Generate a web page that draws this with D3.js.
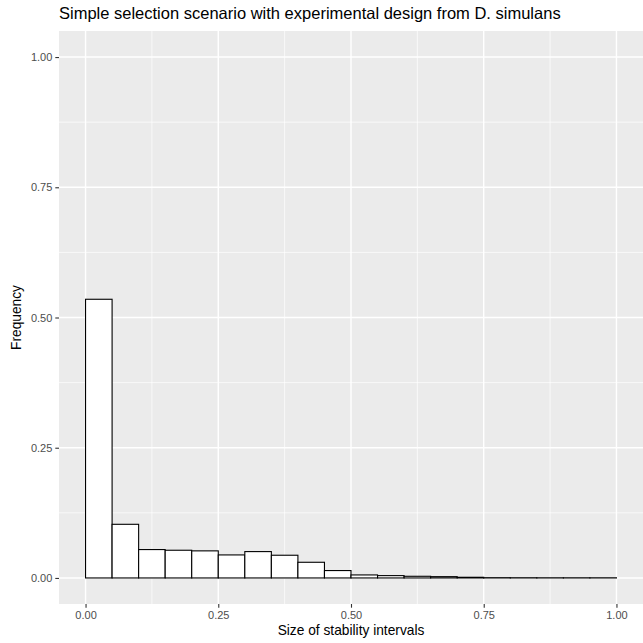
<!DOCTYPE html>
<html><head><meta charset="utf-8">
<script src="https://cdn.jsdelivr.net/npm/d3@7"></script>
<style>body{margin:0;background:#fff}svg{display:block}text{font-family:"Liberation Sans",Arial,sans-serif}</style>
</head><body>
<script>
const binStarts = [0.00,0.05,0.10,0.15,0.20,0.25,0.30,0.35,0.40,0.45,0.50,0.55,0.60,0.65,0.70,0.75,0.80,0.85,0.90,0.95];
const binWidth = 0.05;
const frequencies = [0.535,0.103,0.0545,0.0532,0.052,0.0442,0.0506,0.0436,0.0301,0.0142,0.0058,0.0045,0.0032,0.0025,0.0013,0.0005,0.0004,0.0003,0.0003,0.0003];
const xTicks = [0,0.25,0.5,0.75,1];
const yTicks = [0,0.25,0.5,0.75,1];
const xMinor = [0.125,0.375,0.625,0.875];
const yMinor = [0.125,0.375,0.625,0.875];
const title = "Simple selection scenario with experimental design from D. simulans";
const xTitle = "Size of stability intervals";
const yTitle = "Frequency";

const W=643,H=643;
const P={l:59,r:643,t:31,b:604};
const svg=d3.select("body").append("svg").attr("width",W).attr("height",H);
const x=d3.scaleLinear().domain([-0.05,1.05]).range([P.l,P.r]);
const y=d3.scaleLinear().domain([-0.05,1.05]).range([P.b,P.t]);
svg.append("rect").attr("x",P.l).attr("y",P.t).attr("width",P.r-P.l).attr("height",P.b-P.t).attr("fill","#EBEBEB");
const g=svg.append("g");
g.selectAll(".vmin").data(xMinor).join("line").attr("x1",d=>x(d)).attr("x2",d=>x(d)).attr("y1",P.t).attr("y2",P.b).attr("stroke","#fff").attr("stroke-width",0.7);
g.selectAll(".hmin").data(yMinor).join("line").attr("y1",d=>y(d)).attr("y2",d=>y(d)).attr("x1",P.l).attr("x2",P.r).attr("stroke","#fff").attr("stroke-width",0.7);
g.selectAll(".vmaj").data(xTicks).join("line").attr("x1",d=>x(d)).attr("x2",d=>x(d)).attr("y1",P.t).attr("y2",P.b).attr("stroke","#fff").attr("stroke-width",1.4);
g.selectAll(".hmaj").data(yTicks).join("line").attr("y1",d=>y(d)).attr("y2",d=>y(d)).attr("x1",P.l).attr("x2",P.r).attr("stroke","#fff").attr("stroke-width",1.4);

svg.append("g").selectAll("rect").data(binStarts).join("rect")
 .attr("x",d=>x(d)).attr("width",d=>x(d+binWidth)-x(d))
 .attr("y",(d,i)=>y(frequencies[i])).attr("height",(d,i)=>y(0)-y(frequencies[i]))
 .attr("fill","#fff").attr("stroke","#000").attr("stroke-width",1.1);

const fmt=d3.format(".2f");
const xa=svg.append("g").attr("transform",`translate(0,${P.b})`).call(d3.axisBottom(x).tickValues(xTicks).tickFormat(fmt).tickSize(3.7).tickPadding(3));
const ya=svg.append("g").attr("transform",`translate(${P.l},0)`).call(d3.axisLeft(y).tickValues(yTicks).tickFormat(fmt).tickSize(3.7).tickPadding(3));
[xa,ya].forEach(a=>{a.select(".domain").remove();a.selectAll("line").attr("stroke","#333").attr("stroke-width",1.1);a.selectAll("text").attr("fill","#4D4D4D").attr("font-size","11px").attr("font-family","Liberation Sans, Arial, sans-serif");});

svg.append("text").attr("x",P.l).attr("y",19).attr("font-size","16.5px").attr("fill","#000").text(title);
svg.append("text").attr("x",(P.l+P.r)/2).attr("y",635).attr("text-anchor","middle").attr("font-size","13.75px").text(xTitle);
svg.append("text").attr("transform",`translate(21,${(P.t+P.b)/2}) rotate(-90)`).attr("text-anchor","middle").attr("font-size","13.75px").text(yTitle);
</script>
</body></html>
